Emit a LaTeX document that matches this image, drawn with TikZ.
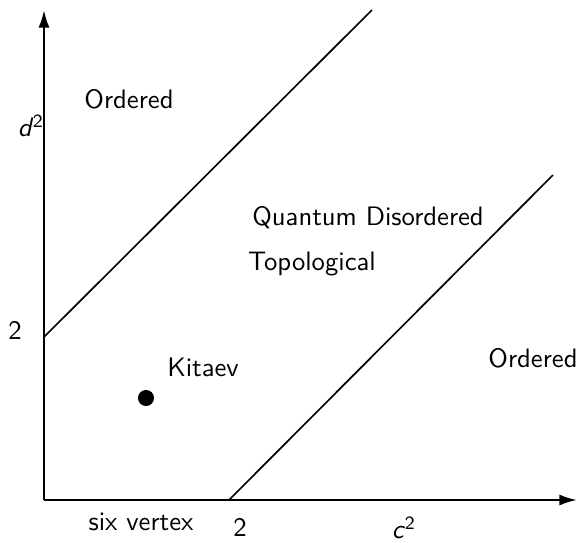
\documentclass[tikz,border=0pt]{standalone}
\usepackage{tikz}
\usetikzlibrary{arrows.meta}
\renewcommand{\familydefault}{\sfdefault}

\begin{document}
\begin{tikzpicture}[x=0.0137cm, y=-0.0137cm,
  axis/.style={-{Latex[length=2.4mm, width=1.5mm]}, line width=0.8pt},
  border/.style={line width=0.65pt},
  lbl/.style={font=\fontsize{10.4}{12}\selectfont, inner sep=0pt},
  point/.style={circle, fill=black, inner sep=0pt, minimum size=2.2mm}
]
  \useasboundingbox (0,0) rectangle (579,542);

  % axes
  \coordinate (origin) at (44,500);
  \coordinate (xend) at (577,500);
  \coordinate (yend) at (44,10);
  \draw[axis] (origin) -- (xend);
  \draw[axis] (origin) -- (yend);

  % phase boundaries
  \coordinate (upA) at (44,337);
  \coordinate (upB) at (372,10);
  \coordinate (lowA) at (229,500);
  \coordinate (lowB) at (553,175);
  \draw[border] (upA) -- (upB);
  \draw[border] (lowA) -- (lowB);

  \node[point] (kitaev) at (146,398) {};

  \node[lbl] (ordtop)  at (129,99)  {Ordered};
  \node[lbl] (dlab)    at (31,126)  {\itshape d\kern0.5pt\textsuperscript{\upshape 2}};
  \node[lbl] (ytick)   at (15,330)  {2};
  \node[lbl] (qd)      at (368,218) {Quantum Disordered};
  \node[lbl] (topo)    at (312,264) {Topological};
  \node[lbl] (kit)     at (203,367) {Kitaev};
  \node[lbl] (ordright) at (533,358) {Ordered};
  \node[lbl] (six)     at (141,522) {six vertex};
  \node[lbl] (xtick)   at (240,527) {2};
  \node[lbl] (clab)    at (404,528) {\itshape c\kern0.5pt\textsuperscript{\upshape 2}};
\end{tikzpicture}
\end{document}
